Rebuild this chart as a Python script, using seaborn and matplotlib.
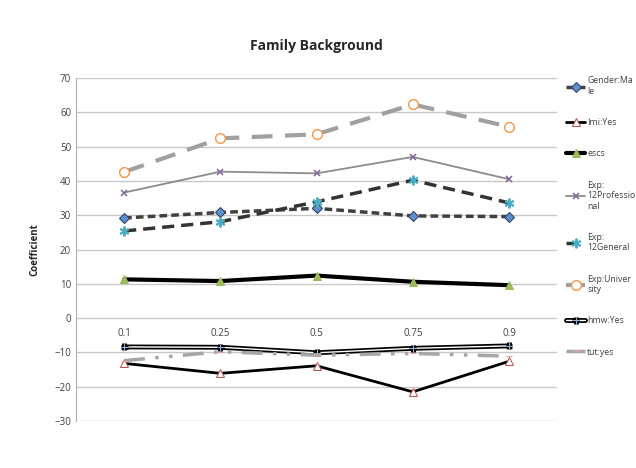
import matplotlib
matplotlib.use("Agg")
import matplotlib.pyplot as plt
import matplotlib.patheffects as pe
import numpy as np
import pandas as pd
import seaborn as sns

sns.set_style("white")
plt.rcParams['font.family'] = ['Open Sans', 'DejaVu Sans']

# Data
quantiles = ['0.1', '0.25', '0.5', '0.75', '0.9']
gender_male = [29.2, 30.8, 32.0, 29.8, 29.6]
imi_yes = [-13.2, -16.1, -13.9, -21.5, -12.6]
escs = [11.3, 10.8, 12.4, 10.6, 9.6]
exp_prof = [36.6, 42.7, 42.2, 47.0, 40.5]
exp_general = [25.4, 28.1, 33.9, 40.2, 33.6]
exp_univ = [42.6, 52.4, 53.6, 62.3, 55.8]
hmw_yes = [-8.4, -8.5, -10.1, -8.8, -8.1]
tut_yes = [-12.4, -9.8, -10.8, -10.3, -11.1]

series = [
    ('Gender:Ma\nle', gender_male),
    ('Imi:Yes', imi_yes),
    ('escs', escs),
    ('Exp:\n12Professio\nnal', exp_prof),
    ('Exp:\n12General', exp_general),
    ('Exp:Univer\nsity', exp_univ),
    ('hmw:Yes', hmw_yes),
    ('tut:yes', tut_yes),
]

styles = {
    'Gender:Ma\nle': dict(color='#404040', lw=2.5, dashes=(2.2, 1.2), marker='D', ms=5,
                          mfc='#5b8fd0', mec='#2f3f5f'),
    'Imi:Yes': dict(color='black', lw=2, marker='^', ms=6, mfc='white', mec='#c0504d'),
    'escs': dict(color='black', lw=3, marker='^', ms=6, mfc='#9bbb59', mec='#9bbb59'),
    'Exp:\n12Professio\nnal': dict(color='#8c8c8c', lw=1.3, marker='x', ms=5,
                                   mec='#8064a2', mew=1.1),
    'Exp:\n12General': dict(color='#333333', lw=2.5, dashes=(3.5, 2), marker=(6, 2, 0),
                            ms=7, mec='#4bacc6', mew=1.4),
    'Exp:Univer\nsity': dict(color='#a0a0a0', lw=3, dashes=(5, 3), marker='o', ms=7,
                             mfc='white', mec='#f79646', mew=1),
    'hmw:Yes': dict(color='white', lw=1, marker='+', ms=5, mec='#8db3e2',
                    path_effects=[pe.Stroke(linewidth=3.5, foreground='black'), pe.Normal()]),
    'tut:yes': dict(color='#a6a6a6', lw=2.5, dashes=(6, 3, 1, 3, 1, 3), marker='_',
                    ms=5, mec='#e6a0a0'),
}

rows = []
for name, vals in series:
    for i, v in enumerate(vals):
        rows.append({'series': name, 'idx': i, 'value': v})
df = pd.DataFrame(rows)

fig = plt.figure(figsize=(6.36, 4.68), dpi=100)
ax = fig.add_axes([0.1195, 0.1004, 0.7565, 0.7329])

for name, _ in series:
    st = dict(styles[name])
    dashes = st.pop('dashes', None)
    sub = df[df['series'] == name]
    sns.lineplot(data=sub, x='idx', y='value', ax=ax, label=name, color=st.pop('color'),
                 linewidth=st.pop('lw'), markersize=st.pop('ms'), **st)
    if dashes is not None:
        ax.lines[-1].set_dashes(dashes)

ax.set_xlim(-0.5, 4.5)
ax.set_ylim(-30, 70)
ax.set_yticks(np.arange(-30, 71, 10))
ax.set_xticks(range(len(quantiles)))
ax.set_xticklabels(quantiles)
ax.yaxis.grid(True, color='#c8c8c8', lw=1)
ax.set_axisbelow(True)
for s in ['top', 'right']:
    ax.spines[s].set_visible(False)
ax.spines['left'].set_color('#b0b0b0')
ax.spines['bottom'].set_position(('data', 0))
ax.spines['bottom'].set_visible(False)
ax.tick_params(axis='both', length=0, labelsize=7, colors='#404040')
ax.tick_params(axis='x', pad=7)
ax.set_xlabel('')
ax.set_ylabel('Coefficient', fontsize=7, fontweight='bold', labelpad=10)
ax.set_title('Family Background', fontsize=10, fontweight='bold', pad=20)

leg = ax.legend(loc='upper left', bbox_to_anchor=(1.012, 1.015), frameon=False,
                fontsize=6.3, handlelength=2.1, labelspacing=2.55, handletextpad=0.3,
                borderaxespad=0)
for t in leg.get_texts():
    t.set_color('#404040')

fig.savefig('out.png', dpi=100)
